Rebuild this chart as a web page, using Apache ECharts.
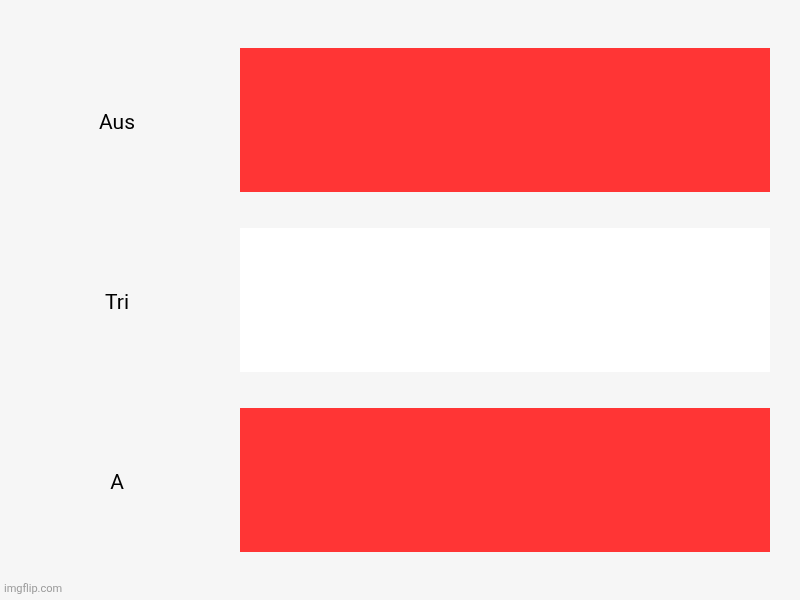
<!DOCTYPE html>
<html><head><meta charset="utf-8">
<script src="https://cdn.jsdelivr.net/npm/echarts@6/dist/echarts.min.js"></script>
<style>html,body{margin:0;padding:0;background:#f6f6f6}#c{width:800px;height:600px}</style>
</head><body><div id="c"></div>
<script>
const categories = ['Aus', 'Tri', 'A'];
const values = [1, 1, 1];
const colors = ['#ff3535', '#ffffff', '#ff3535'];
const chart = echarts.init(document.getElementById('c'));
chart.setOption({
  backgroundColor: '#f6f6f6',
  animation: false,
  grid: { left: 240, right: 30, top: 30, bottom: 30 },
  xAxis: { type: 'value', min: 0, max: 1, show: false },
  yAxis: {
    type: 'category', data: categories, inverse: true,
    axisLine: { show: false }, axisTick: { show: false },
    axisLabel: {
      align: 'center', margin: 123, formatter: '{a|{value}}',
      rich: { a: { fontFamily: 'Roboto', fontSize: 21, color: '#000', padding: [8, 0, 0, 0] } }
    }
  },
  series: [{
    type: 'bar', barCategoryGap: '20%',
    data: values.map((v, i) => ({ value: v, itemStyle: { color: colors[i] } }))
  }],
  graphic: [{ type: 'text', left: 4, bottom: 5, style: { text: 'imgflip.com', fontFamily: 'Roboto', fontSize: 11, fill: '#9a9a9a' } }]
});
</script></body></html>
